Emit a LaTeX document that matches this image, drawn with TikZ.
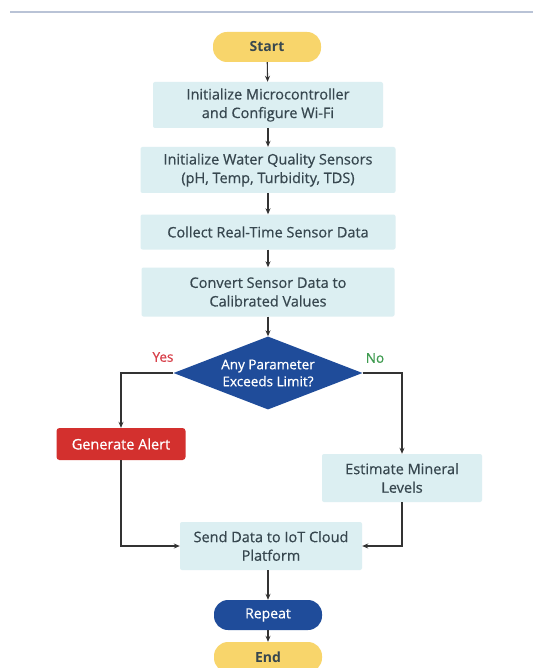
\documentclass[tikz,border=0pt]{standalone}
\usepackage{fontspec}
\setmainfont{Open Sans}
\newfontfamily\medfont[FakeBold=0.6]{Open Sans}
\usetikzlibrary{shapes.geometric,arrows.meta}
\definecolor{boxfill}{HTML}{DCEFF2}
\definecolor{pillyellow}{HTML}{F8D56B}
\definecolor{darkblue}{HTML}{1F4C9A}
\definecolor{alertred}{HTML}{D3302E}
\definecolor{txt}{HTML}{37474F}
\definecolor{yescol}{HTML}{D8404A}
\definecolor{nocol}{HTML}{3E9B4F}
\definecolor{rulecol}{HTML}{B9C3D6}
\begin{document}
\begin{tikzpicture}[x=1pt,y=-1pt,
  every node/.style={font=\medfont\fontsize{14.5}{18.6}\selectfont, text=txt, inner sep=0pt},
  proc/.style={rectangle, fill=boxfill, rounded corners=2pt, align=center},
  pill/.style={rectangle, rounded corners=14pt, minimum width=108pt, minimum height=30pt, font=\fontsize{14}{16}\selectfont\bfseries},
  conn/.style={draw=black!80, line width=1.1pt, -{Stealth[length=6pt,width=5pt]}},
  lbl/.style={font=\medfont\fontsize{13.5}{16}\selectfont}
]
\useasboundingbox (0,0) rectangle (533,668);
\fill[white] (0,0) rectangle (533,668);
\draw[rulecol, line width=2pt] (10,12) -- (533,12);

\node[pill, fill=pillyellow] (start) at (267,47) {Start};
\node[proc, minimum width=230pt, minimum height=46pt] (b1) at (268,105) {Initialize Microcontroller\\and Configure Wi-Fi};
\node[proc, minimum width=255pt, minimum height=46pt] (b2) at (268,170) {Initialize Water Quality Sensors\\(pH, Temp, Turbidity, TDS)};
\node[proc, minimum width=255pt, minimum height=35pt] (b3) at (268,232) {Collect Real-Time Sensor Data};
\node[proc, minimum width=253pt, minimum height=49pt] (b4) at (268,292) {Convert Sensor Data to\\Calibrated Values};
\node[diamond, fill=darkblue, minimum width=189pt, minimum height=73pt, aspect=2.6, align=center, text=white, font=\medfont\fontsize{13.5}{17}\selectfont] (dec) at (268,373) {Any Parameter\\Exceeds Limit?};
\node[lbl, text=yescol] (yes) at (163,357) {Yes};
\node[lbl, text=nocol] (no) at (375,358) {No};
\node[proc, fill=alertred, text=white, minimum width=129pt, minimum height=32pt, rounded corners=3pt] (alert) at (121,444) {Generate Alert};
\node[proc, minimum width=160pt, minimum height=48pt] (est) at (402,478) {Estimate Mineral\\Levels};
\node[proc, minimum width=182pt, minimum height=48pt] (send) at (271,546) {Send Data to IoT Cloud\\Platform};
\node[pill, fill=darkblue, text=white, font=\medfont\fontsize{14}{16}\selectfont] (rep) at (268,615) {Repeat};
\node[pill, fill=pillyellow, minimum height=30pt] (end) at (268,657) {End};

\draw[conn] (start) -- (b1);
\draw[conn] (b1) -- (b2);
\draw[conn] (b2) -- (b3);
\draw[conn] (b3) -- (b4);
\draw[conn] (b4) -- (dec);
\draw[conn] (dec.west) -| (alert.north);
\draw[conn] (dec.east) -| (est.north);
\draw[conn] (alert.south) |- (send.west);
\draw[conn] (est.south) |- (send.east);
\draw[conn] (send.south -| rep.north) -- (rep.north);
\draw[conn] (rep) -- (end);
\end{tikzpicture}
\end{document}
